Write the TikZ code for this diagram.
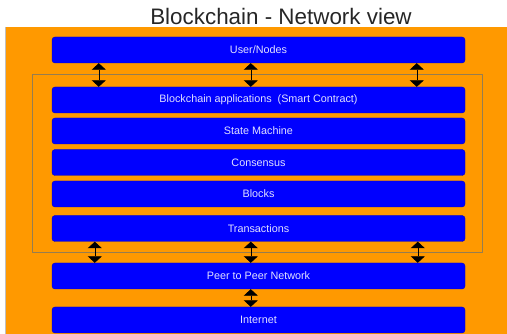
\documentclass[tikz,border=0pt]{standalone}
\usepackage{fontspec}
\setmainfont{Liberation Sans}
\usetikzlibrary{arrows.meta}
\definecolor{camnen}{RGB}{255,153,0}
\definecolor{xanh}{RGB}{0,0,255}
\definecolor{chu}{RGB}{225,225,255}
\definecolor{vien}{RGB}{150,125,80}
\begin{document}
\begin{tikzpicture}[x=1pt,y=-1pt,line join=round,>={Triangle[width=14pt,length=6.5pt]},
	lop/.style={draw=xanh!75!black,line width=0.4pt,fill=xanh,rounded corners=3pt,
		minimum width=413pt,minimum height=26pt,inner sep=0pt,text=chu,
		font=\fontsize{10.8}{13}\selectfont},
	mui/.style={<->,line width=0.6pt}]
	\useasboundingbox (0,0) rectangle (507,334);
	\fill[camnen] (5,27) rectangle (507,334);
	\draw[gray!50] (5,27) -- (5,334);
	\node[anchor=base,text=black!85,font=\fontsize{22.4}{26}\selectfont] (tieude) at (281,25) {Blockchain - Network view};
	% khung cac lop blockchain
	\draw[vien] (32,74) rectangle (482,252);
	\foreach \ten/\y/\nhan in {U/50/{User/Nodes},A/100/{Blockchain applications\ \ (Smart Contract)},
		S/131/State Machine,C/162.5/Consensus,B/194/Blocks,T/228.5/Transactions,
		P/276/Peer to Peer Network,I/320/Internet}
	\node[lop] (\ten) at (258.5,\y) {\nhan};
	\foreach \dx in {47,199,365}
	\draw[mui] ([xshift=\dx pt]U.south west) -- ([xshift=\dx pt]A.north west);
	\foreach \dx in {43,199,366}
	\draw[mui] ([xshift=\dx pt]T.south west) -- ([xshift=\dx pt]P.north west);
	\draw[mui] ([xshift=199pt]P.south west) -- ([xshift=199pt]I.north west);
\end{tikzpicture}
\end{document}
